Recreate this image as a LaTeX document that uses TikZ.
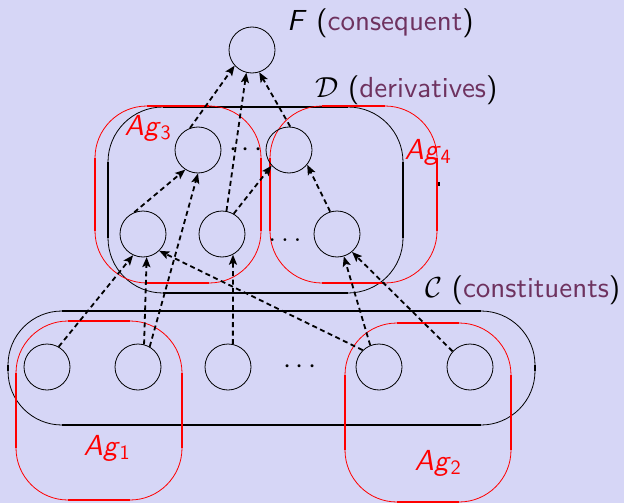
\documentclass[tikz,border=0pt]{standalone}
\usepackage{fix-cm}
\usepackage{fontspec}
\setsansfont{lmsans10-regular}[Extension=.otf, ItalicFont=lmsans10-oblique, BoldFont=lmsans10-bold]
\usepackage{tikz}
\usetikzlibrary{arrows.meta}

\definecolor{bgcolor}{RGB}{214,214,246}
\definecolor{labelcolor}{RGB}{110,50,95}

% rounded box: thin corners, heavy straight sides
\newcommand{\roundbox}[6]{%
  \draw[#1, line width=0.8pt, rounded corners=#2pt] (#3,#4) rectangle (#5,#6);
  \draw[#1, line width=2.6pt] ({#3+#2},#4) -- ({#5-#2},#4)
    ({#3+#2},#6) -- ({#5-#2},#6)
    (#3,{#4+#2}) -- (#3,{#6-#2})
    (#5,{#4+#2}) -- (#5,{#6-#2});
}

\begin{document}
\begin{tikzpicture}[x=1pt, y=-1pt, font=\sffamily\fontsize{29}{34}\selectfont]
\tikzstyle{formula} = [draw, circle, line width=0.8pt, minimum size=46pt, inner sep=0pt]
\tikzstyle{line} = [draw, line width=1.8pt, dash pattern=on 5pt off 3.5pt, -{Stealth[length=10pt,width=8pt,inset=2pt]}]
\tikzstyle{agent} = [text=red, inner sep=0pt]
\tikzstyle{title} = [anchor=base west, inner sep=0pt]

\fill[bgcolor] (0,0) rectangle (624,503);
\useasboundingbox (0,0) rectangle (624,503);

% groups
\roundbox{black}{55}{108}{107}{403}{293}
\roundbox{red}{52}{95}{106}{261}{283}
\roundbox{red}{52}{270}{106}{437}{283}
\roundbox{black}{54}{8}{311}{535}{425}
\roundbox{red}{52}{16}{321}{182}{500}
\roundbox{red}{52}{345}{323}{511}{502}

% formulas
\node [formula] (F) at (252,50) {};
\node [formula] (d4) at (198,150) {};
\node [formula] (d5) at (289,150) {};
\node [formula] (d1) at (143,234) {};
\node [formula] (d2) at (222,234) {};
\node [formula] (d3) at (337,234) {};
\node [formula] (c1) at (47,367) {};
\node [formula] (c2) at (138,367) {};
\node [formula] (c3) at (228,367) {};
\node [formula] (c4) at (379,367) {};
\node [formula] (c5) at (470,367) {};

\node (udots) at (246,150) {$\cdots$};
\node [anchor=base] (ldots) at (285,241) {$\ldots$};
\node (cdots) at (300,367) {$\cdots$};
\fill (438,182) rectangle (440,186);

% labels
\node [title] (conseq) at (287,31) {\textit{F} (\textcolor{labelcolor}{consequent})};
\node [title] (deriv) at (315,98) {$\mathcal{D}$ (\textcolor{labelcolor}{derivatives})};
\node [title] (constit) at (425,297) {$\mathcal{C}$ (\textcolor{labelcolor}{constituents})};
\node [agent] (ag3) at (148,128) {\textit{Ag}\textsubscript{3}};
\node [agent] (ag4) at (428,152) {\textit{Ag}\textsubscript{4}};
\node [agent] (ag1) at (107,448) {\textit{Ag}\textsubscript{1}};
\node [agent] (ag2) at (438,463) {\textit{Ag}\textsubscript{2}};

% derivations
\path [line] (d4.110) -- (F.-138);
\path [line] (d2.79) -- (F.-104);
\path [line] (d5.87) -- (F.-72);
\path [line] (d1.112) -- (d4.-123);
\path [line] (c2.60) -- (d4.-90);
\path [line] (d2.60) -- (d5.-138);
\path [line] (d3.107) -- (d5.-39);
\path [line] (c1.60) -- (d1.-115);
\path [line] (c2.75) -- (d1.-81);
\path [line] (c4.134) -- (d1.-46);
\path [line] (c3.78) -- (d2.-62);
\path [line] (c4.112) -- (d3.-73);
\path [line] (c5.138) -- (d3.-50);

\end{tikzpicture}
\end{document}
